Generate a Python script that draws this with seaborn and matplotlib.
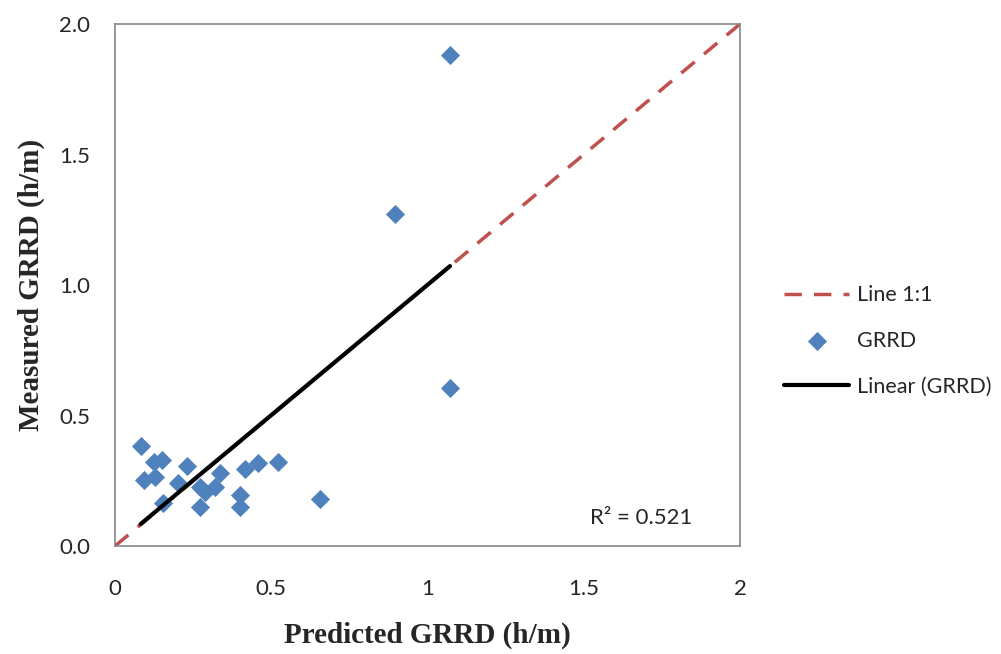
import numpy as np
import pandas as pd
import seaborn as sns
from matplotlib import pyplot as plt

# predicted vs measured GRRD (h/m)
predicted = [0.082, 0.126, 0.149, 0.094, 0.128, 0.229, 0.200, 0.155, 0.272, 0.288,
             0.272, 0.320, 0.336, 0.416, 0.456, 0.520, 0.400, 0.400, 0.657, 0.896,
             1.072, 1.072]
measured = [0.383, 0.323, 0.330, 0.253, 0.266, 0.306, 0.243, 0.164, 0.227, 0.208,
            0.151, 0.227, 0.279, 0.294, 0.317, 0.323, 0.195, 0.151, 0.180, 1.272,
            1.881, 0.605]
one_to_one = [0, 2]
x_ticks = [0, 0.5, 1, 1.5, 2]
x_tick_labels = ["0", "0.5", "1", "1.5", "2"]
y_ticks = [0.0, 0.5, 1.0, 1.5, 2.0]
y_tick_labels = ["0.0", "0.5", "1.0", "1.5", "2.0"]
r2_label = "R² = 0.521"

BLUE = "#4F81BD"
RED = "#C0504D"
GRID_GREY = "#868686"


def main():
    sns.set_style("white")
    plt.rcParams["font.family"] = ["Lato", "DejaVu Sans"]

    df = pd.DataFrame({"predicted": predicted, "measured": measured})

    fig = plt.figure(figsize=(10.01, 6.54), dpi=100)
    ax = fig.add_axes([0.1149, 0.1651, 0.6244, 0.7982])

    ax.plot(one_to_one, one_to_one, color=RED, lw=2.5, dashes=(5, 3.5),
            label="Line 1:1", zorder=1)

    sns.scatterplot(data=df, x="predicted", y="measured", marker="D", s=95,
                    color=BLUE, linewidth=0, label="GRRD", ax=ax, zorder=2)

    # linear trendline over the data range
    slope, intercept = np.polyfit(df["predicted"], df["measured"], 1)
    fit_x = np.array([df["predicted"].min(), df["predicted"].max()])
    ax.plot(fit_x, slope * fit_x + intercept, color="black", lw=3,
            label="Linear (GRRD)", zorder=3)

    ax.set_xlim(0, 2)
    ax.set_ylim(0, 2)
    ax.set_xticks(x_ticks, x_tick_labels)
    ax.set_yticks(y_ticks, y_tick_labels)
    ax.tick_params(axis="both", direction="out", length=6, width=1.2,
                   color=GRID_GREY, labelsize=16)
    ax.tick_params(axis="x", pad=18)
    ax.tick_params(axis="y", pad=12)
    for spine in ax.spines.values():
        spine.set_color(GRID_GREY)
        spine.set_linewidth(1.2)

    label_font = dict(family="Liberation Serif", weight="bold", size=21)
    ax.set_xlabel("Predicted GRRD (h/m)", labelpad=16, **label_font)
    ax.set_ylabel("Measured GRRD (h/m)", labelpad=10, **label_font)

    ax.text(0.923, 0.053, r2_label, transform=ax.transAxes, ha="right",
            va="center", fontsize=16)

    ax.legend(loc="center left", bbox_to_anchor=(1.040, 0.393), frameon=False,
              fontsize=15.5, handlelength=3.0, labelspacing=1.2, handletextpad=0.35)

    plt.savefig("out.png", dpi=100)
    plt.close()


if __name__ == "__main__":
    main()
